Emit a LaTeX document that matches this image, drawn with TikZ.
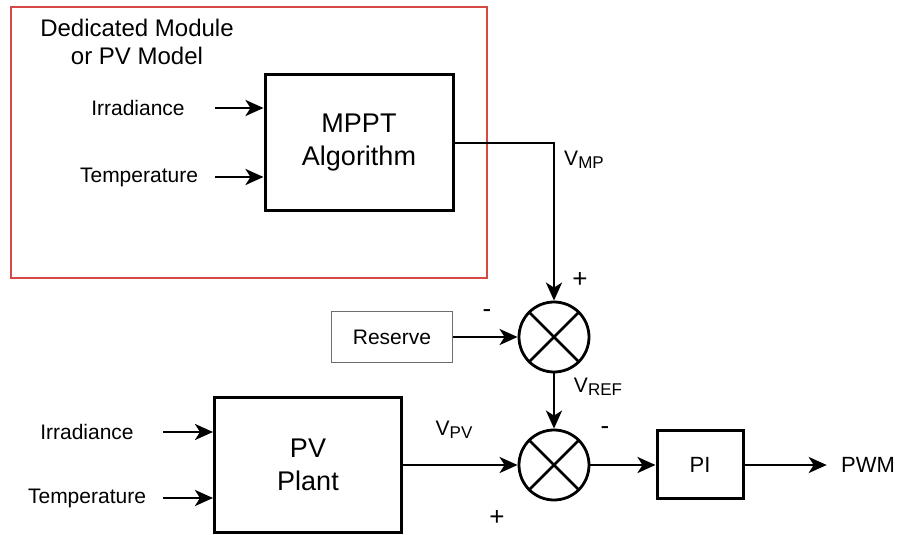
\documentclass[tikz,border=0pt]{standalone}
\usepackage{fontspec}
\setmainfont{Liberation Sans}
\usetikzlibrary{arrows.meta}
\newcommand{\sigsub}[1]{\raisebox{-1.6pt}{\fontsize{8.5}{10}\selectfont #1}}

\begin{document}
\begin{tikzpicture}[x=0.5pt,y=-0.5pt,
  blk/.style={draw,line width=1.5pt,align=center,inner sep=0pt,font=\fontsize{13.5}{16.5}\selectfont},
  sumnode/.style={circle,draw,line width=1.4pt,minimum size=35pt,inner sep=0pt},
  lbl/.style={font=\fontsize{10.5}{12.5}\selectfont,inner sep=1pt},
  sgn/.style={font=\fontsize{13}{15}\selectfont,inner sep=0pt},
  sig/.style={line width=1.4pt,-{Stealth[length=9pt,width=8pt,inset=2.5pt]}}]
  \definecolor{lred}{RGB}{214,72,70}
  \definecolor{lgray}{RGB}{110,110,110}
  \useasboundingbox (0,0) rectangle (902,535);
  % module / model frame
  \draw[lred,line width=1pt] (11,7) rectangle (487,278);
  \node[font=\fontsize{12}{14}\selectfont,align=center,inner sep=0pt] (dedicated) at (137,42) {Dedicated Module\\or PV Model};
  % blocks
  \node[blk,minimum width=94pt,minimum height=68pt] (mppt) at (359,143) {MPPT\\Algorithm};
  \node[blk,minimum width=93.5pt,minimum height=67.5pt] (plant) at (308,465) {PV\\Plant};
  \node[draw=lgray,line width=0.8pt,minimum width=60.5pt,minimum height=25.5pt,lbl] (reserve) at (392,337) {Reserve};
  \node[blk,minimum width=43pt,minimum height=34pt,font=\fontsize{11}{13}\selectfont] (pi) at (700,465) {PI};
  \node[sumnode] (sumref) at (554,337) {};
  \node[sumnode] (sumerr) at (554,465) {};
  \foreach \s in {sumref,sumerr}
    \draw[line width=1.4pt] (\s.45) -- (\s.225) (\s.135) -- (\s.315);
  % inputs
  \node[lbl] (mirr) at (138,108) {Irradiance};
  \node[lbl] (mtemp) at (139,177) {Temperature};
  \node[lbl] (pirr) at (87,432) {Irradiance};
  \node[lbl] (ptemp) at (87,498) {Temperature};
  \coordinate (mirrin) at (215,108);
  \coordinate (mtempin) at (215,177);
  \coordinate (pirrin) at (163,432);
  \coordinate (ptempin) at (163,498);
  \draw[sig] (mirrin) -- (mirrin -| mppt.west);
  \draw[sig] (mtempin) -- (mtempin -| mppt.west);
  \draw[sig] (pirrin) -- (pirrin -| plant.west);
  \draw[sig] (ptempin) -- (ptempin -| plant.west);
  \node[lbl,font=\fontsize{11}{13}\selectfont,inner xsep=7pt] (pwm) at (868,465) {PWM};
  % signal path
  \draw[sig] (mppt.east) -| (sumref.north);
  \draw[sig] (reserve) -- (sumref);
  \draw[sig] (sumref) -- (sumerr);
  \draw[sig] (plant) -- (sumerr);
  \draw[sig] (sumerr) -- (pi);
  \draw[sig] (pi) -- (pwm);
  % signal names and signs
  \node[lbl] (vmp) at (584,160) {V\sigsub{MP}};
  \node[lbl] (vref) at (598,387) {V\sigsub{REF}};
  \node[lbl] (vpv) at (454,430) {V\sigsub{PV}};
  \node[sgn] (refplus) at (580,280) {+};
  \node[sgn] (refminus) at (487,314) {-};
  \node[sgn] (errminus) at (605,431) {-};
  \node[sgn] (errplus) at (497,518) {+};
\end{tikzpicture}
\end{document}
